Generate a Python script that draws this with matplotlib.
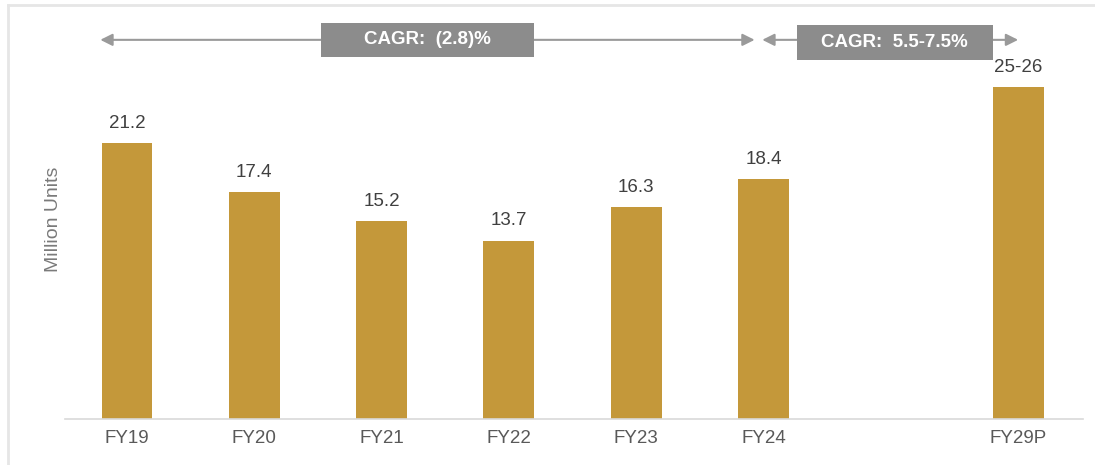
import matplotlib
matplotlib.use("Agg")
import matplotlib.pyplot as plt
from matplotlib.patches import Rectangle
from matplotlib.lines import Line2D

plt.rcParams['font.family'] = ['Liberation Sans', 'DejaVu Sans']

# data
categories = ['FY19', 'FY20', 'FY21', 'FY22', 'FY23', 'FY24', 'FY29P']
positions = [0, 1, 2, 3, 4, 5, 7]
values = [21.2, 17.4, 15.2, 13.7, 16.3, 18.4, 25.5]
value_labels = ['21.2', '17.4', '15.2', '13.7', '16.3', '18.4', '25-26']
cagr_labels = ['CAGR:  (2.8)%', 'CAGR:  5.5-7.5%']

bar_color = '#C4983A'
arrow_color = '#9a9a9a'
box_color = '#8c8c8c'

fig = plt.figure(figsize=(10.95, 4.65), dpi=100)
ax = fig.add_axes([0.0594, 0.0989, 0.9297, 0.858])

ax.bar(positions, values, width=0.4, color=bar_color, zorder=2)
for x, v, lab in zip(positions, values, value_labels):
    ax.text(x, v + 1.5, lab, ha='center', va='center', fontsize=13.5, color='#404040')

ax.set_xlim(-0.487, 7.51)
ax.set_ylim(0, 30.62)
ax.set_xticks(positions)
ax.set_xticklabels(categories, fontsize=13.5, color='#595959')
ax.tick_params(axis='x', length=0, pad=8)
ax.set_yticks([])
for side in ['top', 'right', 'left']:
    ax.spines[side].set_visible(False)
ax.spines['bottom'].set_color('#d9d9d9')
ax.spines['bottom'].set_linewidth(1.2)
ax.set_ylabel('Million Units', fontsize=14, color='#7a7a7a', labelpad=2)

# CAGR arrows and boxes
arrow_y = 29.1
spans = [(positions[0] - 0.21, positions[5] - 0.07), (positions[5] - 0.01, positions[6])]
box_centers = [2.36, 6.03]
box_widths = [1.673, 1.54]
box_y = [arrow_y, arrow_y - 0.2]
for (x0, x1), cx, bw, by, lab in zip(spans, box_centers, box_widths, box_y, cagr_labels):
    ax.annotate('', xy=(x1, arrow_y), xytext=(x0, arrow_y),
                arrowprops=dict(arrowstyle='<|-|>', color=arrow_color, lw=1.5,
                                mutation_scale=18, shrinkA=0, shrinkB=0),
                annotation_clip=False, zorder=3)
    ax.add_patch(Rectangle((cx - bw / 2, by - 1.32), bw, 2.64, facecolor=box_color,
                           edgecolor='none', zorder=4, clip_on=False))
    ax.text(cx, by, lab, ha='center', va='center', fontsize=13.5, fontweight='bold',
            color='white', zorder=5)

# light frame on top and left
fig.add_artist(Line2D([8 / 1095, 1], [1 - 5 / 465, 1 - 5 / 465], color='#e6e6e6', lw=2))
fig.add_artist(Line2D([8 / 1095, 8 / 1095], [0, 1 - 5 / 465], color='#e6e6e6', lw=2))

fig.savefig('out.png', dpi=100)
